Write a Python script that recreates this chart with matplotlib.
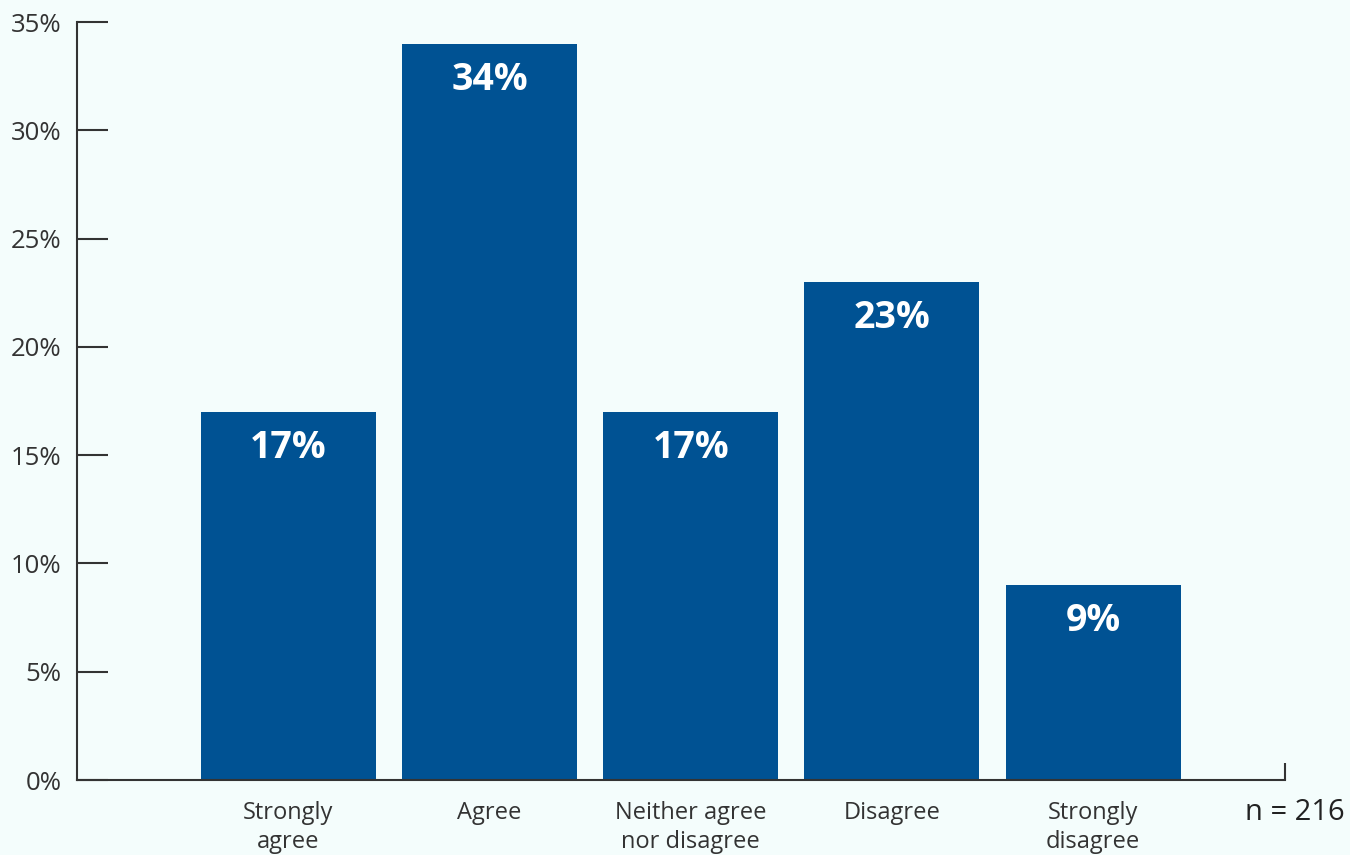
import matplotlib
matplotlib.use('Agg')
from matplotlib import pyplot as plt
from matplotlib.ticker import FixedLocator

# survey responses
categories = ['Strongly\nagree', 'Agree', 'Neither agree\nnor disagree', 'Disagree', 'Strongly\ndisagree']
shares = [17, 34, 17, 23, 9]
yticks = [0, 5, 10, 15, 20, 25, 30, 35]
n_note = 'n = 216'

bg = '#f4fdfc'
bar_col = '#005293'
axis_col = '#333333'

plt.rcParams['font.family'] = ['Open Sans', 'DejaVu Sans']

fig = plt.figure(figsize=(13.5, 8.55), dpi=100, facecolor=bg)
ax = fig.add_axes([0.057, 0.0877, 0.895, 0.8865])
ax.set_facecolor(bg)

x = list(range(len(categories)))
bars = ax.bar(x, shares, width=0.87, color=bar_col, zorder=2)

for b, v in zip(bars, shares):
    ax.annotate(f'{v}%', (b.get_x() + b.get_width() / 2, v), xytext=(0, -26),
                textcoords='offset points', ha='center', va='center',
                color='white', fontsize=27, fontweight='bold')

ax.set_xlim(-1.05, 4.955)
ax.set_ylim(0, 35)
ax.set_yticks(yticks)
ax.set_yticklabels([f'{t}%' for t in yticks])
ax.tick_params(axis='y', direction='in', length=22, width=1.5, color=axis_col,
               labelsize=18.5, labelcolor='#333333', pad=11)
ax.set_xticks(x)
ax.set_xticklabels(categories, linespacing=1.3)
ax.tick_params(axis='x', length=0, labelsize=17, labelcolor='#333333', pad=15)
# small upward tick at the right end of the baseline
ax.xaxis.set_minor_locator(FixedLocator([4.955]))
ax.tick_params(axis='x', which='minor', direction='in', length=12, width=1.5, color=axis_col)

for s in ['top', 'right']:
    ax.spines[s].set_visible(False)
for s in ['left', 'bottom']:
    ax.spines[s].set_color(axis_col)
    ax.spines[s].set_linewidth(1.5)

fig.text(0.996, 0.05, n_note, ha='right', va='center', fontsize=21, color='#222222')

fig.savefig('out.png', dpi=100, facecolor=bg)
